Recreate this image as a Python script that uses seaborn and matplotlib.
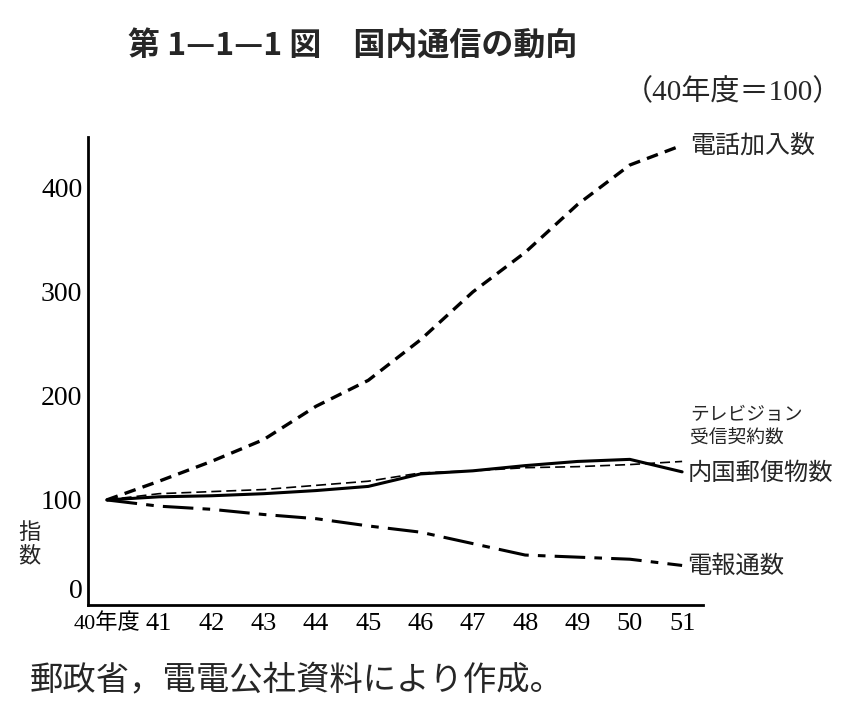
import matplotlib
matplotlib.use("Agg")
import matplotlib.pyplot as plt
import seaborn as sns
import pandas as pd

years = [40, 41, 42, 43, 44, 45, 46, 47, 48, 49, 50, 51]
year_labels = ["40年度", "41", "42", "43", "44", "45", "46", "47", "48", "49", "50", "51"]
telephone = [100, 118, 137, 158, 190, 215, 254, 300, 338, 384, 422, 441]
tv = [100, 106, 108, 110, 114, 118, 126, 128, 131, 132, 134, 137]
mail = [100, 103, 104, 106, 109, 113, 125, 128, 133, 137, 139, 127]
telegram = [100, 94, 91, 86, 82, 75, 69, 58, 47, 45, 43, 37]
series_names = ["電話加入数", "テレビジョン受信契約数", "内国郵便物数", "電報通数"]
yticks = [0, 100, 200, 300, 400]

sns.set_theme(style="white")
plt.rcParams['font.family'] = ['Liberation Serif', 'Noto Sans CJK JP', 'DejaVu Sans']
CJK = ['Noto Sans CJK JP', 'DejaVu Sans']

fig = plt.figure(figsize=(8.45, 7.07), dpi=100)
ax = fig.add_axes([0.104, 0.1443, 0.728, 0.6620])

df = pd.DataFrame({"year": years, "tel": telephone, "tv": tv, "mail": mail, "tg": telegram})

sns.lineplot(data=df, x="year", y="tel", ax=ax, color="black", linewidth=2.4)
ax.lines[-1].set_dashes((3.5, 2.2))
sns.lineplot(data=df, x="year", y="tv", ax=ax, color="black", linewidth=1.2)
ax.lines[-1].set_dashes((6, 3))
sns.lineplot(data=df, x="year", y="mail", ax=ax, color="black", linewidth=2.2)
sns.lineplot(data=df, x="year", y="tg", ax=ax, color="black", linewidth=2.2)
ax.lines[-1].set_dashes((10, 3, 2.5, 3))

ax.set_xlim(39.64, 51.4)
ax.set_ylim(-1, 449)
ax.set_xticks(years)
ax.set_xticklabels(year_labels, fontsize=19)
ax.xaxis.get_ticklabels()[0].set_fontsize(16)
ax.set_yticks(yticks)
ax.set_yticklabels([str(v) for v in yticks], fontsize=20)
ax.set_xlabel("")
ax.set_ylabel("")
for s in ["top", "right"]:
    ax.spines[s].set_visible(False)
for s in ["left", "bottom"]:
    ax.spines[s].set_color("black")
    ax.spines[s].set_linewidth(2)
ax.tick_params(axis="both", direction="in", length=6, width=1.2, colors="black")
ax.tick_params(axis="x", pad=6)
ax.tick_params(axis="y", pad=4)
ax.yaxis.get_ticklabels()[0].set_va("bottom")

# line labels
ax.text(51.15, 441, "電話加入数", fontsize=18, family=CJK, va="center", ha="left")
ax.text(51.15, 171, "テレビジョン\n受信契約数", fontsize=13.5, family=CJK, va="center", ha="left", linespacing=1.1)
ax.text(51.1, 126, "内国郵便物数", fontsize=17.5, family=CJK, va="center", ha="left")
ax.text(51.1, 37, "電報通数", fontsize=17.5, family=CJK, va="center", ha="left")

fig.text(0.035, 0.23, "指\n数", fontsize=16, family=CJK, va="center", ha="center", linespacing=1.0)
fig.text(0.151, 0.936, "第 1—1—1 図　国内通信の動向", fontsize=23, family=CJK, fontweight="bold", va="center", ha="left")
fig.text(0.997, 0.870, "（40年度＝100）", fontsize=21, va="center", ha="right")
fig.text(0.035, 0.038, "郵政省，電電公社資料により作成。", fontsize=24, family=CJK, va="center", ha="left")

fig.savefig("out.png", dpi=100, facecolor="white")
